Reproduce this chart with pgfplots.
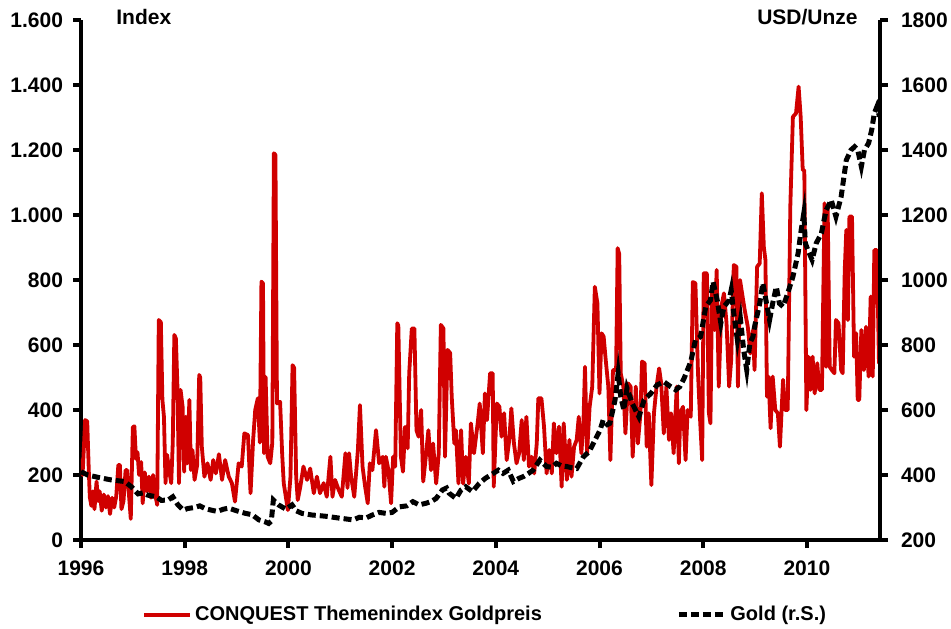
\documentclass[border=0pt]{standalone}
\usepackage{fontspec}
\setmainfont{Liberation Sans}
\usepackage{pgfplots}
\usepackage{pgfplotstable}
\pgfplotsset{compat=1.18}
\definecolor{conqred}{RGB}{208,0,0}

% CONQUEST Themenindex Goldpreis (Index, linke Skala)
\pgfplotstableread{
year val
1996.00 250
1996.03 200
1996.06 300
1996.08 369
1996.12 365
1996.15 215
1996.17 132
1996.20 105
1996.23 150
1996.26 95
1996.30 180
1996.33 120
1996.36 150
1996.40 90
1996.44 140
1996.48 100
1996.52 135
1996.56 80
1996.60 130
1996.64 100
1996.68 135
1996.72 231
1996.75 231
1996.78 95
1996.82 120
1996.86 215
1996.89 215
1996.92 150
1996.96 65
1997.00 347
1997.03 350
1997.06 250
1997.09 270
1997.12 200
1997.16 240
1997.19 113
1997.23 208
1997.27 150
1997.31 195
1997.35 130
1997.39 200
1997.43 140
1997.47 108
1997.50 677
1997.54 670
1997.57 431
1997.60 379
1997.63 175
1997.66 262
1997.70 215
1997.74 175
1997.77 300
1997.80 631
1997.83 620
1997.86 471
1997.89 175
1997.92 462
1997.96 410
1997.99 210
1998.02 379
1998.05 236
1998.09 431
1998.12 215
1998.15 277
1998.19 185
1998.24 230
1998.28 508
1998.30 500
1998.33 287
1998.38 195
1998.44 236
1998.50 185
1998.55 246
1998.60 205
1998.66 264
1998.72 185
1998.78 246
1998.85 195
1998.91 175
1998.97 118
1999.04 236
1999.10 226
1999.15 328
1999.22 323
1999.27 144
1999.32 308
1999.36 400
1999.41 436
1999.45 300
1999.48 795
1999.51 790
1999.53 267
1999.56 502
1999.60 256
1999.65 236
1999.69 300
1999.72 1190
1999.75 1185
1999.78 420
1999.84 425
1999.88 264
1999.91 175
1999.95 133
1999.99 92
2000.04 195
2000.08 538
2000.11 530
2000.15 195
2000.18 123
2000.23 164
2000.29 226
2000.36 185
2000.42 220
2000.49 144
2000.55 195
2000.61 144
2000.68 175
2000.74 133
2000.81 256
2000.85 133
2000.90 185
2000.97 154
2001.03 133
2001.10 267
2001.14 160
2001.17 267
2001.21 195
2001.27 133
2001.34 277
2001.38 415
2001.43 226
2001.48 164
2001.53 113
2001.57 236
2001.62 215
2001.69 338
2001.75 236
2001.82 256
2001.85 164
2001.88 256
2001.93 215
2001.98 113
2002.02 256
2002.06 226
2002.10 667
2002.12 660
2002.17 256
2002.21 210
2002.25 348
2002.30 282
2002.33 513
2002.38 651
2002.43 651
2002.47 338
2002.51 318
2002.56 400
2002.60 180
2002.65 256
2002.70 338
2002.75 215
2002.79 297
2002.85 174
2002.90 267
2002.94 662
2002.99 651
2003.02 256
2003.07 585
2003.12 575
2003.15 441
2003.20 297
2003.23 338
2003.28 174
2003.33 338
2003.37 174
2003.42 256
2003.48 174
2003.52 359
2003.58 267
2003.65 359
2003.69 420
2003.75 267
2003.79 451
2003.83 369
2003.89 513
2003.94 513
2003.96 164
2004.02 420
2004.07 410
2004.11 318
2004.16 390
2004.21 246
2004.26 308
2004.30 405
2004.35 297
2004.40 236
2004.45 267
2004.50 369
2004.54 246
2004.59 379
2004.64 226
2004.69 256
2004.74 205
2004.79 297
2004.82 436
2004.88 436
2004.93 349
2004.98 205
2005.03 277
2005.08 205
2005.12 359
2005.17 267
2005.22 349
2005.27 164
2005.31 359
2005.37 185
2005.42 308
2005.46 195
2005.51 287
2005.56 308
2005.60 379
2005.65 267
2005.69 359
2005.72 533
2005.76 267
2005.81 410
2005.86 472
2005.91 779
2005.96 728
2006.00 451
2006.04 636
2006.08 626
2006.12 554
2006.17 472
2006.21 246
2006.26 523
2006.32 523
2006.35 898
2006.38 880
2006.41 513
2006.46 472
2006.50 328
2006.55 482
2006.60 472
2006.64 256
2006.70 472
2006.74 297
2006.79 390
2006.82 549
2006.87 544
2006.91 287
2006.95 390
2007.00 169
2007.05 390
2007.10 472
2007.15 528
2007.19 482
2007.24 328
2007.29 472
2007.34 308
2007.38 390
2007.43 267
2007.49 472
2007.53 236
2007.56 390
2007.61 410
2007.66 246
2007.70 400
2007.76 379
2007.80 794
2007.85 790
2007.90 513
2007.94 369
2007.98 246
2008.01 821
2008.07 821
2008.11 390
2008.14 359
2008.17 759
2008.22 646
2008.26 831
2008.30 472
2008.35 718
2008.40 759
2008.45 667
2008.50 472
2008.54 554
2008.59 846
2008.64 841
2008.67 472
2008.71 800
2008.75 759
2008.80 708
2008.86 656
2008.91 574
2008.96 646
2008.99 523
2009.04 841
2009.09 851
2009.13 1067
2009.17 900
2009.20 862
2009.23 441
2009.26 503
2009.30 344
2009.34 503
2009.39 400
2009.44 390
2009.48 287
2009.54 493
2009.58 400
2009.63 400
2009.68 1026
2009.73 1302
2009.79 1313
2009.84 1395
2009.88 1302
2009.92 1138
2009.95 1138
2009.99 400
2010.03 564
2010.07 462
2010.11 564
2010.15 451
2010.20 544
2010.24 462
2010.29 462
2010.34 1036
2010.37 533
2010.40 1026
2010.44 533
2010.48 523
2010.53 513
2010.56 677
2010.61 667
2010.66 523
2010.69 513
2010.73 831
2010.76 954
2010.79 677
2010.82 995
2010.87 995
2010.91 564
2010.95 636
2010.98 431
2011.01 431
2011.05 646
2011.10 523
2011.14 656
2011.19 503
2011.23 749
2011.27 503
2011.30 892
2011.35 892
2011.39 544
2011.41 574
}\conquest

% Goldpreis in USD/Unze (rechte Skala)
\pgfplotstableread{
year val
1996.00 410
1996.13 400
1996.35 392
1996.58 385
1996.84 380
1996.97 364
1997.10 342
1997.20 345
1997.29 338
1997.45 333
1997.55 322
1997.68 323
1997.77 333
1997.87 308
1997.97 292
1998.06 297
1998.19 300
1998.29 305
1998.39 297
1998.51 292
1998.63 288
1998.75 295
1998.85 298
1999.00 290
1999.17 282
1999.30 278
1999.43 262
1999.55 256
1999.62 251
1999.67 258
1999.71 323
1999.76 315
1999.81 308
1999.95 295
2000.07 308
2000.15 290
2000.26 282
2000.45 277
2000.60 275
2000.78 272
2000.95 268
2001.10 265
2001.25 262
2001.37 270
2001.50 268
2001.62 277
2001.75 285
2001.88 282
2002.00 285
2002.14 302
2002.28 305
2002.40 318
2002.52 308
2002.65 313
2002.75 318
2002.85 328
2002.97 354
2003.05 360
2003.10 344
2003.23 328
2003.33 354
2003.42 364
2003.55 349
2003.68 374
2003.80 390
2003.95 405
2004.05 415
2004.14 405
2004.24 415
2004.34 380
2004.45 390
2004.53 395
2004.63 405
2004.72 415
2004.85 446
2004.98 426
2005.08 424
2005.17 436
2005.27 428
2005.37 426
2005.47 422
2005.56 420
2005.69 456
2005.80 472
2005.88 497
2006.01 538
2006.07 569
2006.15 555
2006.20 559
2006.30 631
2006.36 713
2006.41 641
2006.47 600
2006.53 667
2006.63 621
2006.76 579
2006.86 631
2006.99 651
2007.11 677
2007.24 687
2007.37 672
2007.47 662
2007.55 672
2007.63 697
2007.76 749
2007.85 815
2007.95 826
2008.05 918
2008.14 938
2008.19 995
2008.27 938
2008.34 867
2008.40 918
2008.50 938
2008.54 969
2008.59 897
2008.66 815
2008.72 877
2008.78 785
2008.84 723
2008.90 805
2008.96 826
2008.99 856
2009.09 928
2009.15 990
2009.21 938
2009.28 877
2009.34 928
2009.41 979
2009.47 928
2009.54 918
2009.63 959
2009.73 1010
2009.83 1082
2009.89 1154
2009.94 1205
2009.97 1113
2010.02 1092
2010.10 1062
2010.18 1113
2010.28 1144
2010.37 1215
2010.47 1246
2010.56 1195
2010.66 1256
2010.76 1369
2010.85 1400
2010.92 1410
2010.98 1400
2011.05 1349
2011.11 1400
2011.19 1421
2011.25 1462
2011.30 1513
2011.35 1533
2011.40 1503
}\gold

\pgfplotsset{
  chartbase/.style={
    at={(0pt,0pt)}, anchor=south west,
    scale only axis, width=399.5pt, height=260pt,
    xmin=1996, xmax=2011.41,
    axis line style={-, line width=2pt, black},
    tick align=outside, major tick length=4pt,
    tick style={line width=2pt, black},
    /pgf/number format/assume math mode=true,
    tick label style={font=\bfseries\fontsize{10.5}{12}\selectfont},
    legend image code/.code={\draw[##1] (0pt,0pt) -- (23pt,0pt);},
    legend style={draw=none, fill=none, inner sep=0pt,
      font=\bfseries\fontsize{10}{12}\selectfont,
      nodes={inner sep=1.5pt}},
  },
}

\begin{document}
\begin{tikzpicture}
\path[use as bounding box] (-40.5pt,-44pt) rectangle (435pt,270pt);

\begin{axis}[
  chartbase,
  ymin=0, ymax=1600,
  ytick={0,200,...,1600},
  xtick={1996,1998,...,2010},
  axis x line*=bottom, axis y line*=left,
  yticklabel style={/pgf/number format/1000 sep={.}, xshift=-1.5pt},
  xticklabel style={/pgf/number format/1000 sep={}, yshift=-3pt},
  legend style={at={(0.0763,-0.144)}, anchor=west},
]
\addplot[conqred, line width=1.9pt, line join=round] table[x=year, y=val] {\conquest};
\addlegendentry{CONQUEST Themenindex Goldpreis}
\end{axis}

\begin{axis}[
  chartbase,
  ymin=200, ymax=1800,
  ytick={200,400,...,1800},
  axis y line*=right, axis x line=none,
  yticklabel style={/pgf/number format/1000 sep={}, xshift=3pt},
  legend style={at={(0.7447,-0.144)}, anchor=west},
]
\addplot[black, line width=2.5pt, dash pattern=on 4pt off 2pt] table[x=year, y=val] {\gold};
\addlegendentry{Gold (r.S.)}
\end{axis}

\node[anchor=base west, inner sep=0pt, font=\bfseries\fontsize{10.5}{12}\selectfont] at (17.5pt,257.5pt) {Index};
\node[anchor=base east, inner sep=0pt, font=\bfseries\fontsize{10.5}{12}\selectfont] at (388.5pt,257.5pt) {USD/Unze};
\end{tikzpicture}
\end{document}
